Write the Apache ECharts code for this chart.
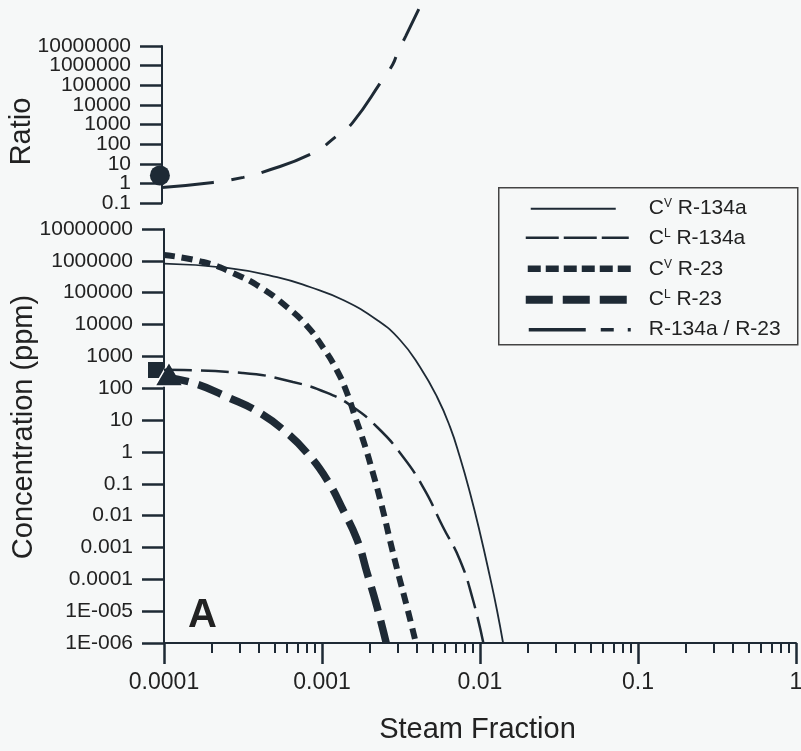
<!DOCTYPE html>
<html>
<head>
<meta charset="utf-8">
<script src="https://cdn.jsdelivr.net/npm/echarts@6/dist/echarts.min.js"></script>
<style>
  html, body { margin: 0; padding: 0; background: #f6f8f8; }
  #main { width: 801px; height: 751px; }
</style>
</head>
<body>
<div id="main"></div>
<script type="text/javascript">
// steam fraction ticks
var xMajor = [0.0001, 0.001, 0.01, 0.1, 1];
var xMinor = [2e-4, 3e-4, 4e-4, 5e-4, 6e-4, 7e-4, 8e-4, 9e-4,
  2e-3, 3e-3, 4e-3, 5e-3, 6e-3, 7e-3, 8e-3, 9e-3,
  0.02, 0.03, 0.04, 0.05, 0.06, 0.07, 0.08, 0.09,
  0.2, 0.3, 0.4, 0.5, 0.6, 0.7, 0.8, 0.9];
var ratioTicks = [0.1, 1, 10, 100, 1000, 10000, 100000, 1000000, 10000000];
var concTicks = [1e-6, 1e-5, 1e-4, 1e-3, 0.01, 0.1, 1, 10, 100, 1000, 10000, 100000, 1000000, 10000000];

// Cv R-134a
var cvR134aX = [1.0e-4, 2.51e-4, 5.19e-4, 8.39e-4, 1.36e-3, 2.23e-3, 3.12e-3, 4.17e-3, 5.35e-3, 6.46e-3, 7.46e-3, 8.65e-3, 1.0e-2, 1.156e-2, 1.28e-2, 1.40e-2];
var cvR134aY = [8.2e5, 6.0e5, 3.1e5, 1.51e5, 5.9e4, 1.39e4, 3270, 465, 53, 6.1, 0.69, 0.051, 2.85e-3, 1.19e-4, 1.09e-5, 1e-6];
// CL R-134a
var clR134aX = [1e-4, 3.16e-4, 6.55e-4, 1.08e-3, 1.57e-3, 2.23e-3, 3.12e-3, 4.36e-3, 5.83e-3, 7.46e-3, 9.03e-3, 1.05e-2];
var clR134aY = [380, 301, 157, 71, 25.8, 6.07, 0.93, 0.079, 4.4e-3, 4.05e-4, 2.24e-5, 1e-6];
// Cv R-23
var cvR23X = [1e-4, 1.77e-4, 2.73e-4, 4.05e-4, 6.0e-4, 8.04e-4, 1.01e-3, 1.24e-3, 1.44e-3, 1.62e-3, 1.82e-3, 2.10e-3, 2.40e-3, 2.69e-3, 3.03e-3, 3.45e-3, 3.93e-3];
var cvR23Y = [1.53e6, 9.2e5, 4.16e5, 1.51e5, 3.56e4, 9.0e3, 1970, 374, 71, 12.5, 2.37, 0.218, 0.0187, 1.72e-3, 1.58e-4, 1.36e-5, 1e-6];
// CL R-23
var clR23X = [1e-4, 1.53e-4, 2.51e-4, 4.05e-4, 6.0e-4, 8.04e-4, 1.08e-3, 1.36e-3, 1.67e-3, 1.93e-3, 2.23e-3, 2.55e-3];
var clR23Y = [220, 146, 53, 16.7, 3.94, 0.93, 0.13, 0.015, 1.72e-3, 1.58e-4, 1.36e-5, 1e-6];
// R-134a / R-23
var ratioX = [1e-4, 2.10e-4, 3.26e-4, 4.29e-4, 8.9e-4, 1.28e-3, 1.60e-3, 2.47e-3, 2.86e-3, 3.07e-3, 3.45e-3, 4.17e-3];
var ratioY = [0.625, 1.12, 2.02, 3.64, 34, 281, 1290, 2.0e5, 1.18e6, 4.8e6, 3.2e7, 7.5e8];

// measured start points
var ratioPoint = [9.7e-5, 2.55];
var squarePoint = [8.9e-5, 374];
var trianglePoint = [1.075e-4, 280];

var ink = "#1e2a35";
var txt = "#222";
var font = "Liberation Sans";

function zip(xs, ys) {
  return xs.map(function(x, i) { return [x, ys[i]]; });
}

// keep the end ticks a hair inside the axis range
function inside(ticks) {
  var n = ticks.length;
  return ticks.map(function(v, i) {
    if (i === 0) return v * (1 + 1e-9);
    if (i === n - 1) return v * (1 - 1e-9);
    return v;
  });
}

function tickText(v) {
  var e = Math.round(Math.log10(v));
  if (e >= 0) return "1" + "0".repeat(e);
  if (e >= -4) return "0." + "0".repeat(-e - 1) + "1";
  return "1E-" + String(-e).padStart(3, "0");
}

function yAxisOf(grid, min, max, ticks, labels, name, showLine, namePad) {
  return {
    gridIndex: grid,
    type: "log",
    min: min,
    max: max,
    position: "left",
    name: name,
    nameLocation: "middle",
    nameGap: 126,
    nameMoveOverlap: false,
    nameTextStyle: { fontFamily: font, fontSize: 29, color: txt, padding: namePad },
    axisLine: { show: showLine, lineStyle: { color: ink, width: 2 } },
    axisTick: { show: showLine, customValues: ticks, length: 22, lineStyle: { color: ink, width: 2.5 } },
    axisLabel: {
      customValues: labels, margin: 31, fontFamily: font, fontSize: 21, color: txt,
      showMinLabel: true, showMaxLabel: true, hideOverlap: false, formatter: tickText
    },
    splitLine: { show: false },
    minorTick: { show: false }
  };
}

// top axis labels are packed tight, so they go on two stacked axes
var ratioA = inside(ratioTicks);
var ratioEven = ratioA.filter(function(v, i) { return i % 2 === 0; });
var ratioOdd = ratioA.filter(function(v, i) { return i % 2 === 1; });

var chart = echarts.init(document.getElementById("main"), null, { renderer: "canvas" });

var option = {
  backgroundColor: "#f6f8f8",
  animation: false,
  grid: [
    { left: 162, top: 46, width: 634, height: 157, outerBoundsMode: "none", containLabel: false },
    { left: 164, top: 229, width: 632, height: 414, outerBoundsMode: "none", containLabel: false }
  ],
  xAxis: [
    { gridIndex: 0, type: "log", min: 0.0001, max: 1, show: false },
    {
      gridIndex: 1, type: "log", min: 0.0001, max: 1, position: "bottom",
      name: "Steam Fraction", nameLocation: "middle", nameGap: 72, nameMoveOverlap: false,
      nameTextStyle: { fontFamily: font, fontSize: 29, color: txt, padding: [0, 5, 0, 0] },
      axisLine: { show: true, lineStyle: { color: ink, width: 2 } },
      axisTick: { show: true, customValues: inside(xMajor), length: 21, lineStyle: { color: ink, width: 2.5 } },
      axisLabel: {
        customValues: inside(xMajor), margin: 28, fontFamily: font, fontSize: 23, color: txt,
        showMinLabel: true, showMaxLabel: true, hideOverlap: false, formatter: tickText
      },
      splitLine: { show: false }
    },
    {
      gridIndex: 1, type: "log", min: 0.0001, max: 1, position: "bottom",
      axisLine: { show: false },
      axisTick: { show: true, customValues: xMinor, length: 10, lineStyle: { color: ink, width: 2 } },
      axisLabel: { show: false },
      splitLine: { show: false }
    }
  ],
  yAxis: [
    yAxisOf(0, 0.1, 10000000, ratioA, ratioEven, "Ratio", true, [0, 14, 0, 0]),
    yAxisOf(1, 0.000001, 10000000, inside(concTicks), inside(concTicks), "Concentration (ppm)", true, [0, 0, 0, 18]),
    yAxisOf(0, 0.1, 10000000, ratioA, ratioOdd, "", false, 0)
  ],
  series: [
    {
      name: "R-134a / R-23", type: "line", xAxisIndex: 0, yAxisIndex: 0,
      data: zip(ratioX, ratioY), symbol: "none", smooth: 0.5, clip: false,
      lineStyle: { color: ink, width: 3, type: [52, 18, 13, 18] }
    },
    {
      name: "Cv R-134a", type: "line", xAxisIndex: 1, yAxisIndex: 1,
      data: zip(cvR134aX, cvR134aY), symbol: "none", smooth: 0.5,
      lineStyle: { color: ink, width: 1.8, type: "solid" }
    },
    {
      name: "CL R-134a", type: "line", xAxisIndex: 1, yAxisIndex: 1,
      data: zip(clR134aX, clR134aY), symbol: "none", smooth: 0.5,
      lineStyle: { color: ink, width: 2.5, type: [28, 9] }
    },
    {
      name: "Cv R-23", type: "line", xAxisIndex: 1, yAxisIndex: 1,
      data: zip(cvR23X, cvR23Y), symbol: "none", smooth: 0.5,
      lineStyle: { color: ink, width: 6, type: [11, 7] }
    },
    {
      name: "CL R-23", type: "line", xAxisIndex: 1, yAxisIndex: 1,
      data: zip(clR23X, clR23Y), symbol: "none", smooth: 0.5,
      lineStyle: { color: ink, width: 7.5, type: [25, 10] }
    },
    {
      type: "scatter", xAxisIndex: 0, yAxisIndex: 0, clip: false,
      data: [ratioPoint], symbol: "circle", symbolSize: 20,
      itemStyle: { color: ink, opacity: 1 }
    },
    {
      type: "scatter", xAxisIndex: 1, yAxisIndex: 1, clip: false,
      data: [squarePoint], symbol: "rect", symbolSize: 16,
      itemStyle: { color: ink, opacity: 1 }
    },
    {
      type: "scatter", xAxisIndex: 1, yAxisIndex: 1, clip: false,
      data: [trianglePoint], symbol: "triangle", symbolSize: [28, 24],
      itemStyle: { color: ink, opacity: 1, borderColor: "#ffffff", borderWidth: 1.5 }
    }
  ],
  graphic: [
    {
      type: "text", left: 188, top: 596,
      style: { text: "A", fontFamily: font, fontSize: 40, fontWeight: "bold", fill: txt }
    },
    {
      type: "group", left: 498, top: 187,
      children: [
        { type: "rect", shape: { x: 0, y: 0, width: 299, height: 157 },
          style: { fill: "#f6f8f8", stroke: "#444", lineWidth: 1.5 } },
        { type: "line", shape: { x1: 32, y1: 21, x2: 117, y2: 21 }, style: { stroke: ink, lineWidth: 2 } },
        { type: "line", shape: { x1: 27, y1: 50, x2: 130, y2: 50 }, style: { stroke: ink, lineWidth: 2.5, lineDash: [33, 5] } },
        { type: "line", shape: { x1: 29, y1: 81, x2: 132, y2: 81 }, style: { stroke: ink, lineWidth: 6.5, lineDash: [13, 5] } },
        { type: "line", shape: { x1: 27, y1: 112, x2: 129, y2: 112 }, style: { stroke: ink, lineWidth: 8, lineDash: [27, 10] } },
        { type: "line", shape: { x1: 30, y1: 142, x2: 133, y2: 142 }, style: { stroke: ink, lineWidth: 3.5, lineDash: [57, 15, 13, 14, 3, 100] } },
        { type: "text", x: 150, y: 20, style: { text: "{m|C}{s|V}{m| R-134a}", verticalAlign: "middle",
          rich: { m: { fontFamily: font, fontSize: 21, fill: txt }, s: { fontFamily: font, fontSize: 12, fill: txt, verticalAlign: "top" } } } },
        { type: "text", x: 150, y: 50, style: { text: "{m|C}{s|L}{m| R-134a}", verticalAlign: "middle",
          rich: { m: { fontFamily: font, fontSize: 21, fill: txt }, s: { fontFamily: font, fontSize: 12, fill: txt, verticalAlign: "top" } } } },
        { type: "text", x: 150, y: 81, style: { text: "{m|C}{s|V}{m| R-23}", verticalAlign: "middle",
          rich: { m: { fontFamily: font, fontSize: 21, fill: txt }, s: { fontFamily: font, fontSize: 12, fill: txt, verticalAlign: "top" } } } },
        { type: "text", x: 150, y: 111, style: { text: "{m|C}{s|L}{m| R-23}", verticalAlign: "middle",
          rich: { m: { fontFamily: font, fontSize: 21, fill: txt }, s: { fontFamily: font, fontSize: 12, fill: txt, verticalAlign: "top" } } } },
        { type: "text", x: 150, y: 141, style: { text: "R-134a / R-23", verticalAlign: "middle",
          fontFamily: font, fontSize: 21, fill: txt } }
      ]
    }
  ]
};

chart.setOption(option);
</script>
</body>
</html>
